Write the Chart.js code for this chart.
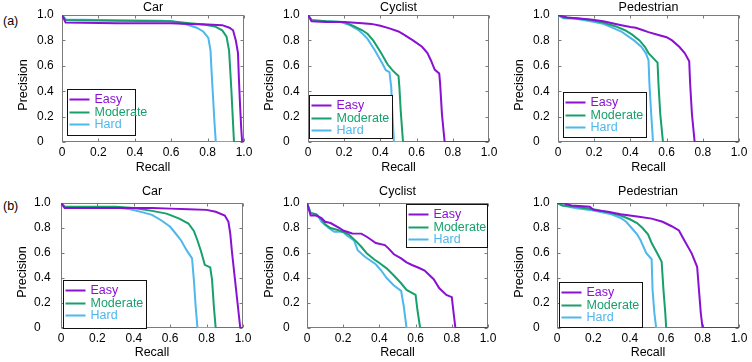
<!DOCTYPE html>
<html>
<head>
<meta charset="utf-8">
<script src="https://cdn.jsdelivr.net/npm/chart.js@4.4.1/dist/chart.umd.min.js"></script>
<style>
  html, body { margin:0; padding:0; background:#ffffff; }
  #wrap { position:relative; width:752px; height:362px; overflow:hidden; background:#fff; }
  canvas { position:absolute; }
  .tag { position:absolute; font-family:"Liberation Sans", Arial, sans-serif; font-size:12.5px; color:#000; line-height:15px; }
</style>
</head>
<body>
<div id="wrap">
  <div class="tag" style="left:3px; top:14px;">(a)</div>
  <div class="tag" style="left:3px; top:199px;">(b)</div>
</div>
<script>
// ---------------- DATA ----------------
const panelTitles = ['Car', 'Cyclist', 'Pedestrian', 'Car', 'Cyclist', 'Pedestrian'];
const seriesNames = ['Easy', 'Moderate', 'Hard'];
const tickValues = [0, 0.2, 0.4, 0.6, 0.8, 1.0];
const tickLabels = ['0', '0.2', '0.4', '0.6', '0.8', '1.0'];
const xAxisLabel = 'Recall';
const yAxisLabel = 'Precision';

// (a) Car  — [recall, precision]
const carA_easy = [[0,1],[0.02,0.94],[0.3,0.935],[0.6,0.935],[0.7,0.93],[0.8,0.925],[0.88,0.92],[0.92,0.9],[0.94,0.88],[0.955,0.8],[0.967,0.7],[0.972,0.5],[0.978,0.3],[0.985,0.1],[0.99,0],[1,0]];
const carA_mod  = [[0,1],[0.02,0.96],[0.3,0.955],[0.6,0.95],[0.7,0.935],[0.78,0.925],[0.84,0.91],[0.88,0.88],[0.904,0.83],[0.918,0.72],[0.925,0.55],[0.931,0.4],[0.938,0.2],[0.945,0],[1,0]];
const carA_hard = [[0,1],[0.02,0.965],[0.3,0.958],[0.55,0.955],[0.6,0.95],[0.685,0.925],[0.74,0.9],[0.776,0.87],[0.804,0.82],[0.816,0.72],[0.822,0.55],[0.83,0.35],[0.838,0.15],[0.845,0],[1,0]];
// (a) Cyclist
const cycA_easy = [[0,1],[0.02,0.95],[0.1,0.945],[0.2,0.945],[0.3,0.935],[0.35,0.93],[0.4,0.915],[0.45,0.895],[0.5,0.87],[0.53,0.845],[0.58,0.8],[0.63,0.75],[0.66,0.7],[0.68,0.64],[0.7,0.57],[0.725,0.54],[0.73,0.46],[0.74,0.22],[0.755,0],[1,0]];
const cycA_mod  = [[0,1],[0.02,0.96],[0.1,0.95],[0.2,0.945],[0.25,0.915],[0.3,0.88],[0.33,0.85],[0.36,0.8],[0.4,0.71],[0.44,0.61],[0.47,0.56],[0.5,0.52],[0.505,0.43],[0.512,0.25],[0.525,0],[1,0]];
const cycA_hard = [[0,1],[0.02,0.955],[0.1,0.95],[0.18,0.945],[0.23,0.92],[0.28,0.88],[0.3,0.855],[0.33,0.81],[0.37,0.72],[0.41,0.62],[0.43,0.565],[0.45,0.55],[0.46,0.43],[0.467,0.2],[0.475,0],[1,0]];
// (a) Pedestrian
const pedA_easy = [[0,1],[0.05,0.98],[0.1,0.975],[0.18,0.965],[0.25,0.95],[0.3,0.935],[0.35,0.92],[0.4,0.905],[0.43,0.9],[0.47,0.88],[0.5,0.865],[0.55,0.845],[0.6,0.825],[0.63,0.8],[0.67,0.75],[0.7,0.7],[0.725,0.635],[0.73,0.46],[0.74,0.22],[0.755,0],[1,0]];
const pedA_mod  = [[0,1],[0.03,0.98],[0.1,0.975],[0.18,0.96],[0.25,0.94],[0.32,0.91],[0.37,0.88],[0.41,0.845],[0.45,0.8],[0.48,0.75],[0.5,0.7],[0.55,0.625],[0.555,0.46],[0.565,0.22],[0.58,0],[1,0]];
const pedA_hard = [[0,1],[0.03,0.975],[0.1,0.97],[0.18,0.95],[0.25,0.93],[0.3,0.9],[0.35,0.87],[0.39,0.83],[0.42,0.8],[0.46,0.75],[0.485,0.7],[0.5,0.645],[0.505,0.46],[0.515,0.22],[0.525,0],[1,0]];
// (b) Car
const carB_easy = [[0,1],[0.02,0.96],[0.5,0.96],[0.6,0.955],[0.7,0.95],[0.8,0.945],[0.85,0.93],[0.9,0.9],[0.92,0.85],[0.93,0.755],[0.94,0.6],[0.955,0.4],[0.97,0.2],[0.985,0],[1,0]];
const carB_mod  = [[0,1],[0.02,0.97],[0.3,0.97],[0.4,0.96],[0.5,0.937],[0.58,0.915],[0.65,0.875],[0.7,0.836],[0.73,0.777],[0.75,0.7],[0.77,0.61],[0.79,0.505],[0.82,0.485],[0.83,0.385],[0.84,0.17],[0.85,0],[1,0]];
const carB_hard = [[0,1],[0.02,0.97],[0.3,0.965],[0.38,0.95],[0.45,0.925],[0.5,0.905],[0.55,0.862],[0.6,0.81],[0.63,0.756],[0.66,0.7],[0.69,0.623],[0.72,0.557],[0.73,0.385],[0.74,0.17],[0.75,0],[1,0]];
// (b) Cyclist
const cycB_easy = [[0,1],[0.02,0.9],[0.05,0.9],[0.08,0.88],[0.1,0.85],[0.13,0.84],[0.18,0.8],[0.2,0.78],[0.25,0.756],[0.3,0.755],[0.33,0.73],[0.36,0.7],[0.38,0.68],[0.43,0.663],[0.45,0.637],[0.48,0.59],[0.52,0.557],[0.55,0.525],[0.58,0.504],[0.62,0.48],[0.65,0.46],[0.7,0.39],[0.73,0.32],[0.77,0.265],[0.8,0.247],[0.81,0.12],[0.82,0],[1,0]];
const cycB_mod  = [[0,1],[0.02,0.92],[0.05,0.91],[0.08,0.87],[0.1,0.83],[0.13,0.8],[0.18,0.78],[0.23,0.75],[0.27,0.695],[0.3,0.65],[0.33,0.597],[0.37,0.55],[0.4,0.52],[0.44,0.477],[0.48,0.42],[0.52,0.358],[0.55,0.305],[0.6,0.265],[0.61,0.146],[0.625,0],[1,0]];
const cycB_hard = [[0,1],[0.02,0.92],[0.06,0.9],[0.08,0.85],[0.12,0.8],[0.15,0.77],[0.2,0.77],[0.22,0.74],[0.26,0.7],[0.28,0.623],[0.32,0.57],[0.38,0.51],[0.41,0.46],[0.44,0.4],[0.48,0.34],[0.52,0.297],[0.535,0.17],[0.55,0],[1,0]];
// (b) Pedestrian
const pedB_easy = [[0,1],[0.03,1.0],[0.08,0.98],[0.18,0.97],[0.2,0.945],[0.28,0.93],[0.35,0.91],[0.4,0.9],[0.45,0.89],[0.52,0.875],[0.58,0.85],[0.63,0.814],[0.67,0.78],[0.7,0.7],[0.74,0.597],[0.77,0.49],[0.78,0.305],[0.79,0.12],[0.8,0],[1,0]];
const pedB_mod  = [[0,1],[0.03,0.98],[0.1,0.97],[0.2,0.95],[0.3,0.92],[0.35,0.9],[0.4,0.87],[0.44,0.84],[0.47,0.8],[0.5,0.75],[0.52,0.68],[0.55,0.6],[0.575,0.53],[0.585,0.305],[0.595,0.12],[0.6,0],[1,0]];
const pedB_hard = [[0,1],[0.03,0.98],[0.1,0.96],[0.2,0.94],[0.3,0.91],[0.35,0.88],[0.38,0.85],[0.41,0.8],[0.44,0.75],[0.46,0.7],[0.49,0.6],[0.52,0.55],[0.525,0.305],[0.535,0.12],[0.545,0],[1,0]];

const panelSeries = [
  [carA_easy, carA_mod, carA_hard],
  [cycA_easy, cycA_mod, cycA_hard],
  [pedA_easy, pedA_mod, pedA_hard],
  [carB_easy, carB_mod, carB_hard],
  [cycB_easy, cycB_mod, cycB_hard],
  [pedB_easy, pedB_mod, pedB_hard]
];

// ---------------- STYLE / LAYOUT ----------------
const seriesColors = ['#8a10d4', '#17a06c', '#4db7ee'];
const FONT = '"Liberation Sans", Arial, Helvetica, sans-serif';

// canvas rect (cl,ct,cw,ch), plot area (L,R,T,B), y label left edge, y title centre, legend box rel. to plot area
const panels = [
  {cl:0,   ct:0,   cw:262, ch:180, L:62,  R:244, T:15,  B:142, lab:37,  yt:24,  lg:{x:5,  y:74, w:68, h:46}},
  {cl:250, ct:0,   cw:251, ch:180, L:308, R:489, T:15,  B:142, lab:283, yt:270, lg:{x:1,  y:80, w:83, h:43}},
  {cl:500, ct:0,   cw:252, ch:180, L:558, R:739, T:15,  B:142, lab:533, yt:520, lg:{x:5,  y:77, w:83, h:45}},
  {cl:0,   ct:180, cw:262, ch:182, L:61,  R:243, T:203, B:328, lab:34,  yt:23,  lg:{x:2,  y:77, w:83, h:48}},
  {cl:250, ct:180, cw:251, ch:182, L:307, R:488, T:203, B:328, lab:283, yt:270, lg:{x:99, y:1,  w:81, h:43}},
  {cl:500, ct:180, cw:252, ch:182, L:557, R:739, T:203, B:328, lab:533, yt:520, lg:{x:2,  y:79, w:83, h:45}}
];

const boxPlugin = {
  id: 'boxTicks',
  beforeDatasetsDraw(chart) {
    const {ctx, chartArea: a, scales: {x, y}} = chart;
    const l = Math.round(a.left) + 0.5, r = Math.round(a.right) - 0.5;
    const t = Math.round(a.top) + 0.5, b = Math.round(a.bottom) - 0.5;
    ctx.save();
    ctx.strokeStyle = '#7a7a7a';
    ctx.lineWidth = 1;
    ctx.strokeRect(l, t, r - l, b - t);
    ctx.beginPath();
    x.ticks.forEach(tk => {
      const px = Math.round(x.getPixelForValue(tk.value)) + 0.5;
      ctx.moveTo(px, b); ctx.lineTo(px, b - 3);
      ctx.moveTo(px, t); ctx.lineTo(px, t + 3);
    });
    y.ticks.forEach(tk => {
      const py = Math.round(y.getPixelForValue(tk.value)) + 0.5;
      ctx.moveTo(l, py); ctx.lineTo(l + 3, py);
      ctx.moveTo(r, py); ctx.lineTo(r - 3, py);
    });
    ctx.stroke();
    ctx.restore();
  }
};

// y-axis title, drawn slightly below the axis centre as in the source figure
const yTitlePlugin = {
  id: 'yTitle',
  afterDraw(chart, args, opts) {
    const {ctx, chartArea: a} = chart;
    ctx.save();
    ctx.translate(opts.x, (a.top + a.bottom) / 2 + opts.dy);
    ctx.rotate(-Math.PI / 2);
    ctx.font = '12.5px ' + FONT;
    ctx.fillStyle = '#000';
    ctx.textAlign = 'center';
    ctx.textBaseline = 'middle';
    ctx.fillText(opts.text, 0, 0);
    ctx.restore();
  }
};

const legendPlugin = {
  id: 'boxLegend',
  afterDatasetsDraw(chart, args, opts) {
    const {ctx, chartArea: a} = chart;
    const bx = Math.round(a.left + opts.x) + 0.5, by = Math.round(a.top + opts.y) + 0.5;
    ctx.save();
    ctx.fillStyle = '#ffffff';
    ctx.fillRect(bx, by, opts.w, opts.h);
    ctx.strokeStyle = '#111111';
    ctx.lineWidth = 1;
    ctx.strokeRect(bx, by, opts.w, opts.h);
    ctx.font = '12.5px ' + FONT;
    ctx.textBaseline = 'middle';
    ctx.textAlign = 'left';
    const rows = [10, 23, 35];
    chart.data.datasets.forEach((ds, i) => {
      const ry = by + rows[i];
      ctx.strokeStyle = ds.borderColor;
      ctx.lineWidth = 2;
      ctx.beginPath();
      ctx.moveTo(bx + 2, ry); ctx.lineTo(bx + 22, ry);
      ctx.stroke();
      ctx.fillStyle = ds.borderColor;
      ctx.fillText(ds.label, bx + 27, ry + 0.5);
    });
    ctx.restore();
  }
};

const wrap = document.getElementById('wrap');
panels.forEach((p, idx) => {
  const cv = document.createElement('canvas');
  cv.width = p.cw; cv.height = p.ch;
  cv.style.left = p.cl + 'px'; cv.style.top = p.ct + 'px';
  cv.style.width = p.cw + 'px'; cv.style.height = p.ch + 'px';
  wrap.appendChild(cv);

  const topRow = p.ct === 0;
  const layoutTop = topRow ? 0 : 4.5;
  const titleH = 15; // 12.5px * 1.2
  const titleBottomPad = p.T - p.ct - layoutTop - titleH;
  const xH = topRow ? 33.5 : 32;
  const yW = p.L - p.lab;

  const datasets = panelSeries[idx].map((pts, i) => ({
    label: seriesNames[i],
    data: pts.map(d => ({x: d[0], y: d[1]})),
    borderColor: seriesColors[i],
    backgroundColor: seriesColors[i],
    borderWidth: 2,
    pointRadius: 0,
    tension: 0,
    fill: false,
    showLine: true
  }));

  new Chart(cv, {
    type: 'scatter',
    data: { datasets },
    options: {
      responsive: false,
      animation: false,
      devicePixelRatio: 1,
      layout: { padding: { left: p.lab - p.cl, right: p.cl + p.cw - p.R, top: layoutTop, bottom: p.ct + p.ch - p.B - xH } },
      plugins: {
        legend: { display: false },
        tooltip: { enabled: false },
        title: {
          display: true, text: panelTitles[idx], fullSize: false,
          color: '#000', font: { family: FONT, size: 12.5, weight: 'normal', lineHeight: 1.2 },
          padding: { top: 0, bottom: titleBottomPad }
        },
        boxLegend: p.lg,
        yTitle: { text: yAxisLabel, x: p.yt - p.cl, dy: 6.5 }
      },
      scales: {
        x: {
          type: 'linear', min: 0, max: 1,
          afterBuildTicks: s => { s.ticks = tickValues.map(v => ({value: v})); },
          afterFit: s => { s.height = xH; },
          grid: { display: false, drawTicks: false },
          border: { display: false },
          ticks: {
            padding: 3, maxRotation: 0, autoSkip: false, color: '#000',
            font: { family: FONT, size: 12, lineHeight: 1.2 },
            callback: v => tickLabels[tickValues.indexOf(v)]
          },
          title: { display: true, text: xAxisLabel, color: '#000', font: { family: FONT, size: 12.5, lineHeight: 1.2 }, padding: { top: 0, bottom: 0 } }
        },
        y: {
          type: 'linear', min: 0, max: 1,
          afterBuildTicks: s => { s.ticks = tickValues.map(v => ({value: v})); },
          afterFit: s => { s.width = yW; },
          grid: { display: false, drawTicks: false },
          border: { display: false },
          ticks: {
            padding: 0, crossAlign: 'far', autoSkip: false, color: '#000',
            font: { family: FONT, size: 12, lineHeight: 1.2 },
            callback: v => tickLabels[tickValues.indexOf(v)]
          },
          title: { display: false, text: yAxisLabel }
        }
      }
    },
    plugins: [boxPlugin, legendPlugin, yTitlePlugin]
  });
});
</script>
</body>
</html>
